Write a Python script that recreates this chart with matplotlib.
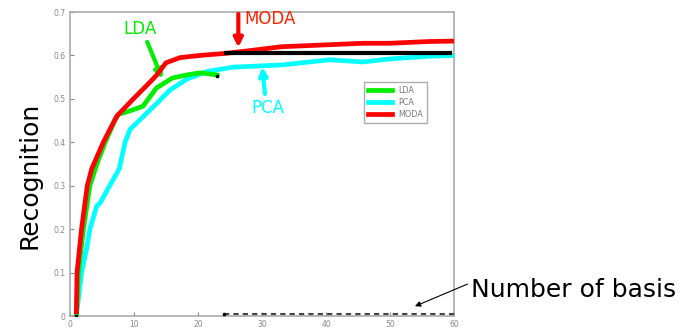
import numpy as np
import matplotlib.pyplot as plt

# curves
lda_x = [1, 1.3, 2.1, 3.1, 4.2, 5.5, 7.0, 7.6, 8.9, 11.4, 13.5, 16, 18.2, 20.3, 23]
lda_y = [0.0, 0.1, 0.2, 0.3, 0.35, 0.40, 0.45, 0.465, 0.47, 0.483, 0.525, 0.548, 0.555, 0.56, 0.555]

pca_x = [1, 1.8, 2.6, 3.1, 4.2, 4.7, 6.2, 7.7, 8.6, 9.4, 11.5, 13.6, 15.6, 18.2, 21.4, 25.5, 33, 40.6, 45.8, 50, 56, 60]
pca_y = [0.0, 0.1, 0.155, 0.2, 0.254, 0.26, 0.3, 0.339, 0.40, 0.43, 0.46, 0.49, 0.52, 0.545, 0.563, 0.573, 0.578, 0.59, 0.585, 0.592, 0.598, 0.6]

moda_x = [1, 1.1, 1.8, 2.7, 3.4, 5.2, 7.3, 9.9, 12, 13.5, 15, 17.2, 20.3, 24.5, 28.6, 33, 41, 45.8, 50, 56, 60]
moda_y = [0.01, 0.1, 0.2, 0.3, 0.339, 0.40, 0.46, 0.50, 0.531, 0.554, 0.583, 0.595, 0.60, 0.605, 0.612, 0.62, 0.625, 0.628, 0.628, 0.632, 0.633]

ref_x = [24.3, 59.3]
ref_y = [0.606, 0.606]
base_x = [24, 60]
base_y = [0.004, 0.004]

x_ticks = [0, 10, 20, 30, 40, 50, 60]
y_ticks = [0, 0.1, 0.2, 0.3, 0.4, 0.5, 0.6, 0.7]

fig = plt.figure(figsize=(6.89, 3.32), dpi=100)
ax = fig.add_axes([70 / 689, 16 / 332, 384 / 689, 304 / 332])

ax.plot(pca_x, pca_y, color='#00ffff', lw=3.4, label='PCA', zorder=3)
ax.plot(lda_x, lda_y, color='#00ee00', lw=3.4, label='LDA', zorder=4)
ax.plot(moda_x, moda_y, color='#ff0000', lw=3.4, label='MODA', zorder=5)
ax.plot(ref_x, ref_y, color='black', lw=3.0, zorder=6)
ax.plot(base_x, base_y, color='#444444', lw=1.5, ls=(0, (2.5, 2)), zorder=6)
ax.plot([1, 24, 23], [0.0, 0.004, 0.553], 's', color='black', ms=2, zorder=7)

ax.set_xlim(0, 60)
ax.set_ylim(0, 0.7)
ax.set_xticks(x_ticks)
ax.set_yticks(y_ticks)
ax.set_xticklabels([str(t) for t in x_ticks])
ax.set_yticklabels(['0', '0.1', '0.2', '0.3', '0.4', '0.5', '0.6', '0.7'])
ax.tick_params(labelsize=5.5, colors='#888888', direction='in', length=3, pad=3)
for s in ax.spines.values():
    s.set_color('#aaaaaa')
    s.set_linewidth(1.2)

handles, labels = ax.get_legend_handles_labels()
order = [1, 0, 2]
leg = ax.legend([handles[i] for i in order], [labels[i] for i in order],
                loc='upper left', bbox_to_anchor=(290 / 384, 1 - 66 / 304),
                fontsize=5.8, frameon=True, fancybox=False, edgecolor='#999999',
                handlelength=3.0, borderpad=0.5, labelspacing=0.35)
for t in leg.get_texts():
    t.set_color('#777777')

# annotations
ax.text(10.9, 0.66, 'LDA', color='#00ee00', fontsize=12, ha='center', va='center')
ax.annotate('', xy=(14.6, 0.54), xytext=(11.9, 0.637),
            arrowprops=dict(arrowstyle='-|>', color='#00ee00', lw=3, mutation_scale=12))
ax.text(31.3, 0.685, 'MODA', color='#ff2200', fontsize=12, ha='center', va='center')
ax.annotate('', xy=(26.3, 0.612), xytext=(26.3, 0.702),
            arrowprops=dict(arrowstyle='-|>', color='#ff0000', lw=3, mutation_scale=13),
            annotation_clip=False)
ax.text(30.9, 0.479, 'PCA', color='#00ffff', fontsize=12, ha='center', va='center')
ax.annotate('', xy=(30.0, 0.58), xytext=(30.5, 0.505),
            arrowprops=dict(arrowstyle='-|>', color='#00ffff', lw=3, mutation_scale=12))

fig.text(30 / 689, 1 - 175 / 332, 'Recognition', rotation=90, fontsize=18,
         ha='center', va='center')
fig.text(471 / 689, 1 - 290 / 332, 'Number of basis', fontsize=18,
         ha='left', va='center')
ax.annotate('', xy=(53.5, 0.02), xytext=(470 / 689, 1 - 283 / 332),
            textcoords='figure fraction',
            arrowprops=dict(arrowstyle='-|>', color='black', lw=0.8, mutation_scale=8),
            annotation_clip=False)

fig.savefig('out.png', dpi=100)
